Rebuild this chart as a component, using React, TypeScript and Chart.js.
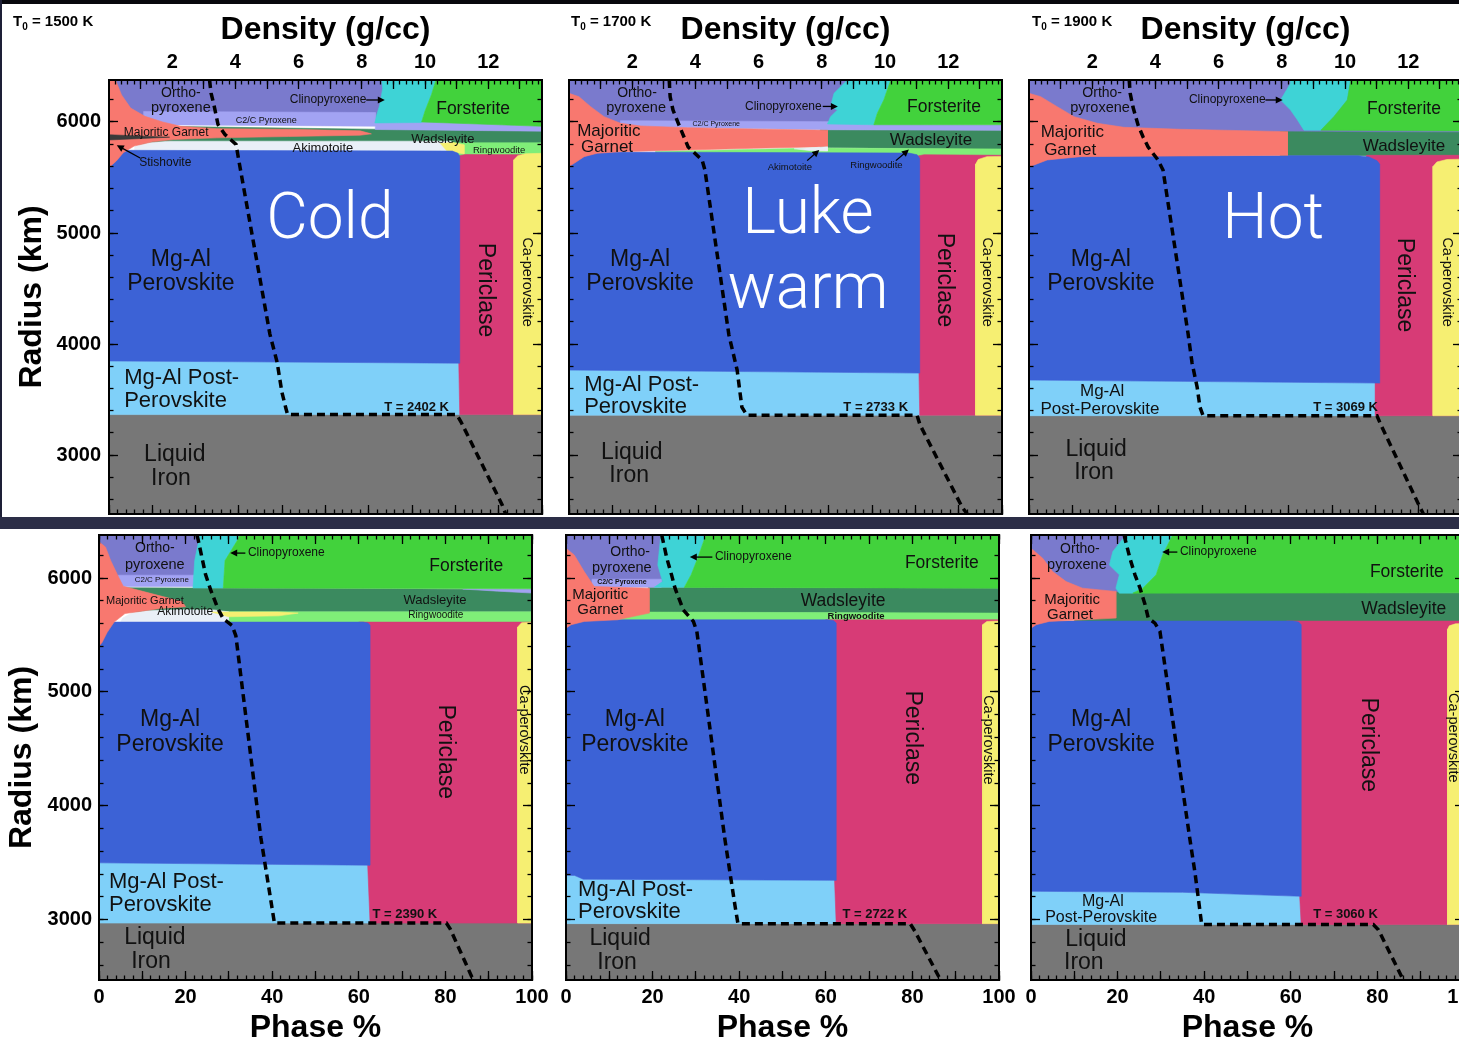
import React, { useEffect, useRef } from 'react';
import { Chart, registerables } from 'chart.js';

Chart.register(...registerables);

type Pt = [number, number]; // [phase %, radius km] or [density, radius km]
type Region = [string, Pt[]];
type Label = { t: string; x: number; r: number; s: number; c?: string; w?: string; rot?: boolean; a?: CanvasTextAlign; f?: string };
type Arrow = [number, number, number, number];

const R_MIN = 2470;
const R_MAX = 6378;
const D_MAX = 13.7;

// Tick values
const RADIUS_TICKS = [3000, 4000, 5000, 6000];
const PHASE_TICKS = [0, 10, 20, 30, 40, 50, 60, 70, 80, 90, 100];
const PHASE_LABELS = [0, 20, 40, 60, 80, 100];
const DENSITY_TICKS = [1, 2, 3, 4, 5, 6, 7, 8, 9, 10, 11, 12, 13];
const DENSITY_LABELS = [2, 4, 6, 8, 10, 12];
const steps = (a: number, b: number, d: number) => { const o: number[] = []; for (let v = a; v <= b + 1e-9; v += d) o.push(Math.round(v * 100) / 100); return o; };
const RADIUS_MINOR = steps(2600, 6200, 200);
const PHASE_MINOR = steps(0, 100, 2);
const DENSITY_MINOR = steps(0.2, 13.6, 0.2);

const FONT = '"Liberation Sans", Arial, Helvetica, sans-serif';
const BIG = '300 64px Roboto, "Liberation Sans", sans-serif';

const PHASE_COLORS: Record<string, string> = {
  'Orthopyroxene': '#7a7acd',
  'C2/C Pyroxene': '#a2a3f3',
  'Clinopyroxene': '#3ed3d6',
  'Forsterite': '#42d23c',
  'Majoritic Garnet': '#f8786f',
  'Stishovite': '#3a3a3a',
  'Wadsleyite': '#3b8a5f',
  'Akimotoite': '#e9eff7',
  'Ringwoodite': '#7fee78',
  'Mg-Al Perovskite': '#3c62d6',
  'Mg-Al Post-Perovskite': '#7fd0f9',
  'Periclase': '#d73b76',
  'Ca-perovskite': '#f6ef72',
  'Liquid Iron': '#777777',
};

// ---------------- T0 = 1500 K (Cold) ----------------
const COLD_REGIONS: Region[] = [
  ['Orthopyroxene', [[0, 6378], [66, 6378], [66, 5985], [0, 5985]]],
  ['Wadsleyite', [[4, 5965], [60, 5935], [100, 5918], [100, 5800], [4, 5800]]],
  ['Ringwoodite', [[76, 5813], [100, 5813], [100, 5690], [76, 5690]]],
  ['Akimotoite', [[79, 5700], [79, 5827], [14, 5827], [9, 5812], [6, 5780], [6, 5720]]],
  ['Ca-perovskite', [[76.5, 5808], [79.5, 5815], [82, 5795], [82, 5712], [78, 5742]]],
  ['C2/C Pyroxene', [[8, 6095], [35, 6090], [61.5, 6085], [61.5, 5991], [72, 6006], [100, 5961], [100, 5917], [61.5, 5932], [61.5, 5962], [8, 5976]]],
  ['Clinopyroxene', [[63, 6378], [75.5, 6378], [74.5, 6250], [73, 6100], [72.2, 5995], [61.4, 5991], [61.8, 6060], [62.5, 6150], [63.2, 6300]]],
  ['Forsterite', [[75.5, 6378], [100, 6378], [100, 5961], [72.2, 6000], [73, 6100], [74.5, 6250]]],
  ['Liquid Iron', [[0, 2470], [100, 2470], [100, 3365], [0, 3365]]],
  ['Mg-Al Post-Perovskite', [[0, 3365], [81, 3365], [81, 3828], [40, 3838], [0, 3848]]],
  ['Periclase', [[81, 3365], [100, 3365], [100, 5705], [82.3, 5707], [80, 5690], [80, 5500]]],
  ['Ca-perovskite', [[93.5, 3365], [100, 3365], [100, 5718], [96.2, 5714], [94.4, 5695], [93.5, 5660]]],
  ['Mg-Al Perovskite', [[0, 3848], [40, 3838], [81, 3828], [81, 5690], [80.6, 5718], [79.3, 5738], [3, 5745], [0, 5725]]],
  ['Majoritic Garnet', [[0, 6378], [1.5, 6378], [2.9, 6244], [5, 6125], [8.3, 6051], [12.4, 6000], [16.6, 5961], [24.9, 5940], [41.5, 5934], [58, 5920], [60.6, 5893], [58, 5881], [41.5, 5869], [24.9, 5857], [14.9, 5842], [10, 5821], [5.8, 5783], [3.3, 5723], [1.7, 5649], [0.4, 5604], [0, 5589]]],
  ['Stishovite', [[0, 5885], [14, 5863], [0, 5838]]],
];
const COLD_DENSITY: Pt[] = [[3.18, 6378], [3.23, 6259], [3.32, 6155], [3.45, 5976], [3.67, 5887], [4.02, 5798], [4.11, 5649], [5.09, 4090], [5.32, 3836], [5.47, 3567], [5.6, 3418], [5.65, 3365], [11.0, 3365], [11.14, 3298], [12.44, 2552], [12.55, 2470]];
const COLD_LABELS: Label[] = [
  { t: 'Ortho-', x: 16.6, r: 6261, s: 14 },
  { t: 'pyroxene', x: 16.6, r: 6126, s: 14.5 },
  { t: 'Clinopyroxene', x: 50.6, r: 6198, s: 12 },
  { t: 'Forsterite', x: 84.1, r: 6117, s: 17.5 },
  { t: 'C2/C Pyroxene', x: 36.3, r: 6009, s: 9 },
  { t: 'Majoritic Garnet', x: 13.2, r: 5901, s: 12 },
  { t: 'Wadsleyite', x: 77.1, r: 5847, s: 13 },
  { t: 'Akimotoite', x: 49.4, r: 5766, s: 13 },
  { t: 'Ringwoodite', x: 90.1, r: 5748, s: 9.5 },
  { t: 'Stishovite', x: 13, r: 5631, s: 12 },
  { t: 'Mg-Al', x: 16.6, r: 4757, s: 23 },
  { t: 'Perovskite', x: 16.6, r: 4541, s: 23 },
  { t: 'Cold', x: 51, r: 5099, s: 64, c: '#fff', f: BIG },
  { t: 'Periclase', x: 86.8, r: 4486, s: 23, rot: true },
  { t: 'Ca-perovskite', x: 96.5, r: 4558, s: 14.5, rot: true },
  { t: 'Mg-Al Post-', x: 3.5, r: 3693, s: 22, a: 'left' },
  { t: 'Perovskite', x: 3.5, r: 3486, s: 22, a: 'left' },
  { t: 'Liquid', x: 15.2, r: 3000, s: 23 },
  { t: 'Iron', x: 14.3, r: 2784, s: 23 },
  { t: 'T = 2402 K', x: 78.5, r: 3432, s: 13, w: 'bold', a: 'right' },
];
const COLD_ARROWS: Arrow[] = [[59.4, 6198, 63.7, 6198], [7.2, 5676, 1.8, 5790]];

// ---------------- T0 = 1700 K (Luke warm) ----------------
const LUKE_REGIONS: Region[] = [
  ['Orthopyroxene', [[0, 6378], [66, 6378], [66, 5955], [0, 5955]]],
  ['Wadsleyite', [[58, 5930], [100, 5925], [100, 5755], [58, 5770]]],
  ['Ringwoodite', [[20, 5735], [57, 5765], [100, 5757], [100, 5690], [20, 5690]]],
  ['C2/C Pyroxene', [[11.9, 6012], [60.4, 6003], [62, 5985], [75, 5978], [100, 5972], [100, 5925], [59.7, 5930], [11.9, 5960]]],
  ['Clinopyroxene', [[64.3, 6378], [74.3, 6378], [72.7, 6198], [71.2, 6078], [70.4, 5975], [59.7, 5982], [60.4, 6048], [62, 6108], [60.4, 6138], [61.2, 6258]]],
  ['Forsterite', [[74.3, 6378], [100, 6378], [100, 5975], [70.4, 5975], [71.2, 6078], [72.7, 6198]]],
  ['Liquid Iron', [[0, 2470], [100, 2470], [100, 3360], [0, 3360]]],
  ['Mg-Al Post-Perovskite', [[0, 3360], [81, 3360], [81, 3739], [0, 3766]]],
  ['Periclase', [[81, 3360], [100, 3360], [100, 5700], [82, 5705], [80, 5690], [80, 5500]]],
  ['Ca-perovskite', [[93.9, 3360], [100, 3360], [100, 5690], [96.5, 5688], [94.5, 5662], [93.9, 5620]]],
  ['Mg-Al Perovskite', [[0, 3766], [81, 3739], [81, 5670], [80.4, 5705], [78.5, 5720], [5, 5730], [2, 5700], [0, 5640]]],
  ['Majoritic Garnet', [[0, 6258], [2.3, 6228], [5, 6138], [8.1, 6048], [11.9, 5988], [16.6, 5964], [27.3, 5949], [42.7, 5937], [59.7, 5925], [59.7, 5778], [42.7, 5763], [27.3, 5748], [11.9, 5733], [6.5, 5718], [3.5, 5688], [1.2, 5628], [0, 5598]]],
  ['Akimotoite', [[52, 5759], [59.7, 5776], [59.7, 5738], [56, 5741]]],
];
const LUKE_DENSITY: Pt[] = [[3.17, 6378], [3.2, 6228], [3.29, 6108], [3.48, 5973], [3.77, 5775], [4.21, 5658], [4.3, 5568], [5.06, 4081], [5.32, 3766], [5.47, 3432], [5.63, 3360], [11.01, 3360], [11.11, 3270], [12.44, 2531], [12.6, 2470]];
const LUKE_LABELS: Label[] = [
  { t: 'Ortho-', x: 15.7, r: 6261, s: 14 },
  { t: 'pyroxene', x: 15.5, r: 6126, s: 14.5 },
  { t: 'Clinopyroxene', x: 49.5, r: 6140, s: 12 },
  { t: 'Forsterite', x: 86.6, r: 6135, s: 17.5 },
  { t: 'C2/C Pyroxene', x: 34, r: 5982, s: 7 },
  { t: 'Majoritic', x: 9.2, r: 5919, s: 17 },
  { t: 'Garnet', x: 8.8, r: 5775, s: 17 },
  { t: 'Wadsleyite', x: 83.6, r: 5838, s: 17 },
  { t: 'Akimotoite', x: 51, r: 5595, s: 9.5 },
  { t: 'Ringwoodite', x: 71, r: 5613, s: 9.5 },
  { t: 'Mg-Al', x: 16.4, r: 4757, s: 23 },
  { t: 'Perovskite', x: 16.4, r: 4541, s: 23 },
  { t: 'Luke', x: 55.2, r: 5144, s: 64, c: '#fff', f: BIG },
  { t: 'warm', x: 55.2, r: 4468, s: 64, c: '#fff', f: BIG },
  { t: 'Periclase', x: 86.6, r: 4577, s: 23, rot: true },
  { t: 'Ca-perovskite', x: 96.5, r: 4558, s: 14.5, rot: true },
  { t: 'Mg-Al Post-', x: 3.5, r: 3630, s: 22, a: 'left' },
  { t: 'Perovskite', x: 3.5, r: 3432, s: 22, a: 'left' },
  { t: 'Liquid', x: 14.5, r: 3018, s: 23 },
  { t: 'Iron', x: 13.9, r: 2811, s: 23 },
  { t: 'T = 2733 K', x: 78.3, r: 3432, s: 13, w: 'bold', a: 'right' },
];
const LUKE_ARROWS: Arrow[] = [[58.6, 6140, 62.1, 6140], [55, 5652, 57.8, 5748], [75.5, 5652, 78.5, 5752]];

// ---------------- T0 = 1900 K (Hot) ----------------
const HOT_REGIONS: Region[] = [
  ['Orthopyroxene', [[0, 6378], [100, 6378], [100, 5895], [0, 5895]]],
  ['Wadsleyite', [[58, 5913], [100, 5905], [100, 5695], [58, 5695]]],
  ['Clinopyroxene', [[60.4, 6378], [74.3, 6378], [73.5, 6198], [70.4, 6048], [67.4, 5926], [63.5, 5926], [62, 6018], [60.4, 6108], [58.1, 6198], [60.4, 6348]]],
  ['Forsterite', [[74.3, 6378], [100, 6378], [100, 5918], [67.4, 5926], [70.4, 6048], [73.5, 6198]]],
  ['Liquid Iron', [[0, 2470], [100, 2470], [100, 3355], [0, 3355]]],
  ['Mg-Al Post-Perovskite', [[0, 3355], [81, 3355], [81, 3649], [0, 3676]]],
  ['Periclase', [[80, 3355], [100, 3355], [100, 5700], [78, 5700], [78, 5600], [80, 5500]]],
  ['Ca-perovskite', [[93.3, 3355], [100, 3355], [100, 5665], [96.5, 5662], [94.2, 5640], [93.3, 5600]]],
  ['Mg-Al Perovskite', [[0, 3676], [81, 3649], [81, 5620], [80.4, 5650], [78.5, 5685], [76, 5697], [6, 5697], [2, 5650], [0, 5590]]],
  ['Majoritic Garnet', [[0, 6258], [2.7, 6228], [6.5, 6138], [10.4, 6048], [15.8, 5988], [21.9, 5952], [35, 5934], [59.7, 5913], [59.7, 5700], [35, 5694], [11.9, 5688], [4.2, 5658], [1.2, 5613], [0, 5598]]],
];
const HOT_DENSITY: Pt[] = [[3.17, 6378], [3.2, 6261], [3.29, 6135], [3.45, 5973], [3.61, 5865], [3.77, 5775], [4.08, 5658], [4.24, 5568], [5.03, 4099], [5.16, 3829], [5.32, 3612], [5.41, 3432], [5.51, 3355], [11.01, 3355], [11.11, 3288], [12.37, 2531], [12.48, 2470]];
const HOT_LABELS: Label[] = [
  { t: 'Ortho-', x: 16.9, r: 6261, s: 14 },
  { t: 'pyroxene', x: 16.4, r: 6126, s: 14.5 },
  { t: 'Clinopyroxene', x: 45.8, r: 6198, s: 12 },
  { t: 'Forsterite', x: 86.6, r: 6117, s: 17.5 },
  { t: 'Majoritic', x: 10, r: 5910, s: 17 },
  { t: 'Garnet', x: 9.5, r: 5748, s: 17 },
  { t: 'Wadsleyite', x: 86.6, r: 5784, s: 17 },
  { t: 'Mg-Al', x: 16.6, r: 4757, s: 23 },
  { t: 'Perovskite', x: 16.6, r: 4541, s: 23 },
  { t: 'Hot', x: 56.4, r: 5099, s: 64, c: '#fff', f: BIG },
  { t: 'Periclase', x: 86.6, r: 4531, s: 23, rot: true },
  { t: 'Ca-perovskite', x: 96.5, r: 4558, s: 14.5, rot: true },
  { t: 'Mg-Al', x: 16.9, r: 3576, s: 17 },
  { t: 'Post-Perovskite', x: 16.4, r: 3414, s: 17 },
  { t: 'Liquid', x: 15.5, r: 3045, s: 23 },
  { t: 'Iron', x: 15, r: 2838, s: 23 },
  { t: 'T = 3069 K', x: 80.6, r: 3432, s: 13, w: 'bold', a: 'right' },
];
const HOT_ARROWS: Arrow[] = [[54.6, 6198, 58.6, 6198]];

// ---------------- Bottom row, panel 1 (T = 2390 K) ----------------
const B1_REGIONS: Region[] = [
  ['Orthopyroxene', [[0, 6378], [24, 6378], [24, 5975], [0, 5975]]],
  ['Wadsleyite', [[5, 5915], [100, 5900], [100, 5703], [5, 5703]]],
  ['C2/C Pyroxene', [[84, 5903], [100, 5903], [100, 5868], [92, 5885]]],
  ['Ringwoodite', [[29, 5703], [100, 5703], [100, 5590], [29, 5590]]],
  ['Akimotoite', [[4.8, 5600], [5.5, 5650], [7.5, 5690], [11, 5712], [18, 5722], [26.6, 5720], [29.9, 5703], [29.9, 5600]]],
  ['Ca-perovskite', [[26, 5702], [41.5, 5702], [46, 5692], [41.5, 5668], [29.9, 5660]]],
  ['C2/C Pyroxene', [[4.4, 6025], [22.5, 6025], [22.5, 5925], [4.4, 5925]]],
  ['Clinopyroxene', [[23.3, 6378], [32.5, 6378], [32, 6333], [29.1, 6153], [28.7, 5913], [21.7, 5913], [22.1, 6153]]],
  ['Forsterite', [[32.5, 6378], [100, 6378], [100, 5905], [28.7, 5913], [29.1, 6153], [32, 6333]]],
  ['Liquid Iron', [[0, 2470], [100, 2470], [100, 2970], [0, 2970]]],
  ['Mg-Al Post-Perovskite', [[0, 2970], [62.6, 2970], [62.6, 3478], [0, 3499]]],
  ['Periclase', [[62.6, 2970], [100, 2970], [100, 5613], [60, 5613], [60, 5400]]],
  ['Ca-perovskite', [[96.7, 2970], [100, 2970], [100, 5612], [97.6, 5608], [96.7, 5570]]],
  ['Mg-Al Perovskite', [[0, 3499], [62.6, 3478], [62.6, 5585], [62.1, 5605], [61, 5613], [3, 5613], [0.5, 5580], [0, 5500]]],
  ['Majoritic Garnet', [[0, 6318], [1.5, 6273], [2.7, 6153], [4.4, 6018], [5.6, 5928], [10.1, 5883], [19.2, 5793], [20, 5748], [14.2, 5733], [6, 5688], [3.5, 5613], [1.9, 5523], [0.7, 5433], [0, 5403]]],
];
const B1_DENSITY: Pt[] = [[3.1, 6378], [3.14, 6333], [3.37, 6033], [3.53, 5898], [3.76, 5733], [3.93, 5643], [4.21, 5583], [4.33, 5493], [5.12, 3722], [5.29, 3425], [5.46, 3128], [5.55, 2970], [10.99, 2970], [11.11, 2920], [11.84, 2470]];
const B1_LABELS: Label[] = [
  { t: 'Ortho-', x: 12.9, r: 6263, s: 14 },
  { t: 'pyroxene', x: 12.9, r: 6114, s: 14.5 },
  { t: 'Clinopyroxene', x: 34.4, r: 6219, s: 12, a: 'left' },
  { t: 'Forsterite', x: 84.8, r: 6105, s: 17.5 },
  { t: 'C2/C Pyroxene', x: 14.5, r: 5982, s: 8 },
  { t: 'Majoritic Garnet', x: 10.6, r: 5798, s: 11 },
  { t: 'Wadsleyite', x: 77.6, r: 5807, s: 13 },
  { t: 'Akimotoite', x: 19.9, r: 5702, s: 12 },
  { t: 'Ringwoodite', x: 77.8, r: 5676, s: 10 },
  { t: 'Mg-Al', x: 16.4, r: 4755, s: 23 },
  { t: 'Perovskite', x: 16.4, r: 4535, s: 23 },
  { t: 'Periclase', x: 80.1, r: 4474, s: 23, rot: true },
  { t: 'Ca-perovskite', x: 98.2, r: 4667, s: 14.5, rot: true },
  { t: 'Mg-Al Post-', x: 2.3, r: 3334, s: 22, a: 'left' },
  { t: 'Perovskite', x: 2.3, r: 3132, s: 22, a: 'left' },
  { t: 'Liquid', x: 12.9, r: 2843, s: 23 },
  { t: 'Iron', x: 12.0, r: 2632, s: 23 },
  { t: 'T = 2390 K', x: 78.1, r: 3044, s: 13, w: 'bold', a: 'right' },
];
const B1_ARROWS: Arrow[] = [[33.8, 6219, 30.3, 6219]];

// ---------------- Bottom row, panel 2 (T = 2722 K) ----------------
const B2_REGIONS: Region[] = [
  ['Orthopyroxene', [[0, 6378], [23, 6378], [23, 5930], [0, 5930]]],
  ['Wadsleyite', [[19, 5917], [100, 5911], [100, 5690], [19, 5700]]],
  ['Ringwoodite', [[10, 5640], [19.2, 5701], [100, 5692], [100, 5600], [10, 5600]]],
  ['C2/C Pyroxene', [[6, 5990], [22, 5990], [22, 5920], [6, 5920]]],
  ['Clinopyroxene', [[21.9, 6378], [32.3, 6378], [30.4, 6174], [28.9, 6028], [27.3, 5920], [20.4, 5920], [22.3, 5969], [21.2, 6115]]],
  ['Forsterite', [[32.3, 6378], [100, 6378], [100, 5911], [27.3, 5918], [28.9, 6028], [30.4, 6174]]],
  ['Liquid Iron', [[0, 2470], [100, 2470], [100, 2965], [0, 2965]]],
  ['Mg-Al Post-Perovskite', [[0, 2965], [62.4, 2965], [62.4, 3345], [4, 3355], [2, 3388], [0, 3390]]],
  ['Periclase', [[62.4, 2965], [100, 2965], [100, 5633], [60, 5633], [60, 5400]]],
  ['Ca-perovskite', [[96.2, 2965], [100, 2965], [100, 5622], [97.2, 5619], [96.2, 5590]]],
  ['Mg-Al Perovskite', [[0, 3390], [2, 3388], [4, 3355], [62.4, 3345], [62.4, 5605], [61.8, 5626], [60.5, 5633], [2, 5633], [0.5, 5600], [0, 5560]]],
  ['Majoritic Garnet', [[0, 6261], [1.9, 6203], [4.2, 6057], [6.5, 5925], [19.2, 5911], [19.2, 5692], [11.9, 5633], [4.2, 5619], [1.2, 5590], [0, 5560]]],
];
const B2_DENSITY: Pt[] = [[3.03, 6378], [3.19, 6174], [3.34, 6028], [3.45, 5911], [3.71, 5721], [4.03, 5619], [4.14, 5531], [5.03, 3701], [5.19, 3409], [5.35, 3117], [5.44, 2965], [10.89, 2965], [11.04, 2898], [11.85, 2470]];
const B2_LABELS: Label[] = [
  { t: 'Ortho-', x: 14.8, r: 6228, s: 14 },
  { t: 'pyroxene', x: 12.9, r: 6088, s: 14.5 },
  { t: 'Clinopyroxene', x: 34.4, r: 6184, s: 12, a: 'left' },
  { t: 'Forsterite', x: 86.8, r: 6132, s: 17.5 },
  { t: 'C2/C Pyroxene', x: 12.9, r: 5965, s: 7, w: 'bold' },
  { t: 'Majoritic', x: 7.9, r: 5851, s: 15 },
  { t: 'Garnet', x: 7.9, r: 5719, s: 15 },
  { t: 'Wadsleyite', x: 64, r: 5798, s: 17.5 },
  { t: 'Ringwoodite', x: 67, r: 5667, s: 9.5, w: 'bold' },
  { t: 'Mg-Al', x: 15.9, r: 4755, s: 23 },
  { t: 'Perovskite', x: 15.9, r: 4535, s: 23 },
  { t: 'Periclase', x: 79.9, r: 4597, s: 23, rot: true },
  { t: 'Ca-perovskite', x: 97.5, r: 4579, s: 14.5, rot: true },
  { t: 'Mg-Al Post-', x: 2.8, r: 3264, s: 22, a: 'left' },
  { t: 'Perovskite', x: 2.8, r: 3071, s: 22, a: 'left' },
  { t: 'Liquid', x: 12.5, r: 2834, s: 23 },
  { t: 'Iron', x: 11.8, r: 2623, s: 23 },
  { t: 'T = 2722 K', x: 78.8, r: 3044, s: 13, w: 'bold', a: 'right' },
];
const B2_ARROWS: Arrow[] = [[33.8, 6184, 28.6, 6184]];

// ---------------- Bottom row, panel 3 (T = 3060 K) ----------------
const B3_REGIONS: Region[] = [
  ['Orthopyroxene', [[0, 6378], [22, 6378], [22, 5868], [0, 5868]]],
  ['Wadsleyite', [[19.6, 5875], [100, 5870], [100, 5615], [10, 5615], [10, 5700]]],
  ['Clinopyroxene', [[21.9, 6378], [32.7, 6378], [30.4, 6203], [28.9, 6028], [25.8, 5911], [23.5, 5867], [20.4, 5867], [19.6, 5911], [20.4, 6028], [18.1, 6115], [18.9, 6232]]],
  ['Forsterite', [[32.7, 6378], [100, 6378], [100, 5870], [23.5, 5867], [25.8, 5911], [28.9, 6028], [30.4, 6203]]],
  ['Liquid Iron', [[0, 2470], [100, 2470], [100, 2957], [0, 2957]]],
  ['Mg-Al Post-Perovskite', [[0, 2957], [62.4, 2957], [62.4, 3205], [35, 3240], [0, 3249]]],
  ['Periclase', [[62.4, 2957], [100, 2957], [100, 5622], [59, 5622], [59, 5400]]],
  ['Ca-perovskite', [[96.2, 2957], [100, 2957], [100, 5600], [98, 5598], [96.6, 5580], [96.2, 5550]]],
  ['Mg-Al Perovskite', [[0, 3249], [35, 3240], [62.4, 3205], [62.4, 5590], [61.8, 5613], [60.5, 5622], [3, 5622], [1, 5600], [0, 5560]]],
  ['Majoritic Garnet', [[0, 6261], [2.7, 6174], [5, 6057], [8.1, 5969], [11.9, 5911], [19.6, 5882], [19.6, 5648], [11.9, 5633], [4.2, 5619], [1.2, 5590], [0, 5560]]],
];
const B3_DENSITY: Pt[] = [[2.95, 6378], [2.97, 6349], [3.13, 6174], [3.29, 6028], [3.45, 5911], [3.61, 5765], [3.71, 5648], [3.92, 5604], [4.08, 5531], [5.03, 3701], [5.19, 3409], [5.3, 3175], [5.4, 2957], [10.83, 2957], [10.99, 2912], [11.78, 2470]];
const B3_LABELS: Label[] = [
  { t: 'Ortho-', x: 11.3, r: 6254, s: 14 },
  { t: 'pyroxene', x: 10.6, r: 6114, s: 14.5 },
  { t: 'Clinopyroxene', x: 34.4, r: 6228, s: 12, a: 'left' },
  { t: 'Forsterite', x: 86.8, r: 6053, s: 17.5 },
  { t: 'Majoritic', x: 9.5, r: 5807, s: 15 },
  { t: 'Garnet', x: 9, r: 5676, s: 15 },
  { t: 'Wadsleyite', x: 86.1, r: 5728, s: 17.5 },
  { t: 'Mg-Al', x: 16.2, r: 4755, s: 23 },
  { t: 'Perovskite', x: 16.2, r: 4535, s: 23 },
  { t: 'Periclase', x: 77.8, r: 4535, s: 23, rot: true },
  { t: 'Ca-perovskite', x: 97.5, r: 4597, s: 14.5, rot: true },
  { t: 'Mg-Al', x: 16.6, r: 3158, s: 16 },
  { t: 'Post-Perovskite', x: 16.2, r: 3018, s: 16 },
  { t: 'Liquid', x: 15, r: 2825, s: 23 },
  { t: 'Iron', x: 12.2, r: 2623, s: 23 },
  { t: 'T = 3060 K', x: 80.1, r: 3044, s: 13, w: 'bold', a: 'right' },
];
const B3_ARROWS: Arrow[] = [[33.8, 6228, 30.3, 6228]];

type PanelSpec = {
  key: string; row: 'top' | 'bottom'; left: number; top: number;
  padL: number; padR: number; padT: number; padB: number; plotW: number; plotH: number;
  showY: boolean; yTitlePad: number; yGap: number;
  regions: Region[]; density: Pt[]; labels: Label[]; arrows: Arrow[];
};

const PANELS: PanelSpec[] = [
  { key: 'cold', row: 'top', left: 4, top: 0, padL: 105, padR: 12, padT: 80, padB: 4, plotW: 433, plotH: 434, showY: true, yTitlePad: 12, yGap: 8, regions: COLD_REGIONS, density: COLD_DENSITY, labels: COLD_LABELS, arrows: COLD_ARROWS },
  { key: 'luke', row: 'top', left: 555, top: 0, padL: 14, padR: 12, padT: 80, padB: 4, plotW: 433, plotH: 434, showY: false, yTitlePad: 0, yGap: 8, regions: LUKE_REGIONS, density: LUKE_DENSITY, labels: LUKE_LABELS, arrows: LUKE_ARROWS },
  { key: 'hot', row: 'top', left: 1015, top: 0, padL: 14, padR: 12, padT: 80, padB: 4, plotW: 433, plotH: 434, showY: false, yTitlePad: 0, yGap: 8, regions: HOT_REGIONS, density: HOT_DENSITY, labels: HOT_LABELS, arrows: HOT_ARROWS },
  { key: 'b1', row: 'bottom', left: 4, top: 529, padL: 95, padR: 22, padT: 6, padB: 65, plotW: 433, plotH: 445, showY: true, yTitlePad: 2, yGap: 7, regions: B1_REGIONS, density: B1_DENSITY, labels: B1_LABELS, arrows: B1_ARROWS },
  { key: 'b2', row: 'bottom', left: 552, top: 529, padL: 14, padR: 22, padT: 6, padB: 65, plotW: 433, plotH: 445, showY: false, yTitlePad: 0, yGap: 7, regions: B2_REGIONS, density: B2_DENSITY, labels: B2_LABELS, arrows: B2_ARROWS },
  { key: 'b3', row: 'bottom', left: 1017, top: 529, padL: 14, padR: 22, padT: 6, padB: 65, plotW: 433, plotH: 445, showY: false, yTitlePad: 0, yGap: 7, regions: B3_REGIONS, density: B3_DENSITY, labels: B3_LABELS, arrows: B3_ARROWS },
];

const T0_LABELS: { temp: string; left: number }[] = [
  { temp: '1500', left: 13 },
  { temp: '1700', left: 571 },
  { temp: '1900', left: 1032 },
];

const tickFont = { family: FONT, size: 20, weight: 'bold', lineHeight: 1 };
const titleFont = { family: FONT, size: 32, weight: 'bold', lineHeight: 1 };

function frame(len: number, border: boolean) {
  return {
    grid: { display: true, drawOnChartArea: false, drawTicks: true, tickLength: -len, tickWidth: 1.3, tickColor: '#000', z: 2 },
    border: { display: border, color: '#000', width: 2, z: 2 },
  };
}
function sized(dim: 'w' | 'h', v: number) {
  return (s: any) => {
    if (dim === 'w') s.width = v; else s.height = v;
    s.paddingLeft = 0; s.paddingRight = 0; s.paddingTop = 0; s.paddingBottom = 0;
  };
}
function fixedTicks(vals: number[]) {
  return (s: any) => { s.ticks = vals.map((v) => ({ value: v })); };
}

function labelsPlugin(labels: Label[], arrows: Arrow[]) {
  return {
    id: 'phaseLabels',
    beforeDatasetDraw(chart: any, args: any) {
      if (args.index !== 0) return;
      const { ctx, scales } = chart;
      const sx = scales.x, sy = scales.y;
      const ca = chart.chartArea;
      ctx.save();
      ctx.beginPath();
      ctx.rect(ca.left, ca.top, ca.right - ca.left, ca.bottom - ca.top);
      ctx.clip();
      for (const l of labels) {
        const px = sx.getPixelForValue(l.x), py = sy.getPixelForValue(l.r);
        ctx.font = l.f ? l.f : `${l.w || 'normal'} ${l.s}px ${FONT}`;
        ctx.fillStyle = l.c || '#111';
        ctx.textAlign = l.a || 'center';
        ctx.textBaseline = 'middle';
        if (l.rot) {
          ctx.save(); ctx.translate(px, py); ctx.rotate(Math.PI / 2); ctx.fillText(l.t, 0, 0); ctx.restore();
        } else {
          ctx.fillText(l.t, px, py);
        }
      }
      ctx.strokeStyle = '#000'; ctx.fillStyle = '#000'; ctx.lineWidth = 1.3;
      for (const [x1, r1, x2, r2] of arrows) {
        const ax = sx.getPixelForValue(x1), ay = sy.getPixelForValue(r1);
        const bx = sx.getPixelForValue(x2), by = sy.getPixelForValue(r2);
        const ang = Math.atan2(by - ay, bx - ax);
        const c = Math.cos(ang), s = Math.sin(ang);
        ctx.beginPath(); ctx.moveTo(ax, ay); ctx.lineTo(bx - 5 * c, by - 5 * s); ctx.stroke();
        ctx.beginPath(); ctx.moveTo(bx, by);
        ctx.lineTo(bx - 7 * c + 3.5 * s, by - 7 * s - 3.5 * c);
        ctx.lineTo(bx - 7 * c - 3.5 * s, by - 7 * s + 3.5 * c);
        ctx.closePath(); ctx.fill();
      }
      ctx.restore();
    },
  };
}

function buildConfig(p: PanelSpec): any {
  const top = p.row === 'top';
  const datasets: any[] = [];
  datasets.push({
    label: 'Density (g/cc)', data: p.density.map(([d, r]) => ({ x: d, y: r })), xAxisID: 'xd', yAxisID: 'y',
    borderColor: '#000', borderWidth: 3.5, borderDash: [8, 5], borderCapStyle: 'butt', fill: false, pointRadius: 0,
  });
  const painted = [...p.regions].reverse();
  for (const [name, pts] of painted) {
    const closed = [...pts, pts[0]];
    const col = PHASE_COLORS[name];
    datasets.push({
      label: name, data: closed.map(([x, r]) => ({ x, y: r })), xAxisID: 'x', yAxisID: 'y',
      fill: 'shape', backgroundColor: col, borderColor: col, borderWidth: 0.6, pointRadius: 0,
    });
  }

  const scales: any = {
    x: {
      type: 'linear', position: 'bottom', min: 0, max: 100, weight: 1, ...frame(9, true),
      afterBuildTicks: fixedTicks(PHASE_TICKS),
      ticks: { autoSkip: false, maxRotation: 0, display: !top, font: tickFont, color: '#000', padding: 16.5, callback: (v: number) => (PHASE_LABELS.includes(v) ? String(v) : '') },
      title: { display: !top, text: 'Phase %', font: titleFont, color: '#000', padding: { top: 0, bottom: 1 } },
      afterFit: sized('h', p.padB),
    },
    xMinor: {
      type: 'linear', position: 'bottom', min: 0, max: 100, weight: 0, ...frame(4.5, false),
      afterBuildTicks: fixedTicks(PHASE_MINOR), ticks: { display: false }, afterFit: sized('h', 0),
    },
    y: {
      type: 'linear', position: 'left', min: R_MIN, max: R_MAX, weight: 1, ...frame(9, true),
      afterBuildTicks: fixedTicks(RADIUS_TICKS),
      ticks: { autoSkip: false, display: p.showY, font: tickFont, color: '#000', padding: p.yGap + 9, callback: (v: number) => String(v) },
      title: { display: p.showY, text: 'Radius (km)', font: titleFont, color: '#000', padding: { top: p.yTitlePad, bottom: 0 } },
      afterFit: sized('w', p.padL),
    },
    yMinor: {
      type: 'linear', position: 'left', min: R_MIN, max: R_MAX, weight: 0, ...frame(4.5, false),
      afterBuildTicks: fixedTicks(RADIUS_MINOR), ticks: { display: false }, afterFit: sized('w', 0),
    },
    yR: {
      type: 'linear', position: 'right', min: R_MIN, max: R_MAX, weight: 1, ...frame(9, true),
      afterBuildTicks: fixedTicks(RADIUS_TICKS), ticks: { display: false }, afterFit: sized('w', p.padR),
    },
    yRMinor: {
      type: 'linear', position: 'right', min: R_MIN, max: R_MAX, weight: 0, ...frame(4.5, false),
      afterBuildTicks: fixedTicks(RADIUS_MINOR), ticks: { display: false }, afterFit: sized('w', 0),
    },
  };
  if (top) {
    scales.xd = {
      type: 'linear', position: 'top', min: 0, max: D_MAX, weight: 1, ...frame(9, true),
      afterBuildTicks: fixedTicks(DENSITY_TICKS),
      ticks: { autoSkip: false, maxRotation: 0, font: tickFont, color: '#000', padding: 17, callback: (v: number) => (DENSITY_LABELS.includes(v) ? String(v) : '') },
      title: { display: true, text: 'Density (g/cc)', font: titleFont, color: '#000', padding: { top: 14, bottom: 0 } },
      afterFit: sized('h', p.padT),
    };
    scales.xdMinor = {
      type: 'linear', position: 'top', min: 0, max: D_MAX, weight: 0, ...frame(4.5, false),
      afterBuildTicks: fixedTicks(DENSITY_MINOR), ticks: { display: false }, afterFit: sized('h', 0),
    };
  } else {
    scales.xd = { type: 'linear', position: 'top', min: 0, max: D_MAX, display: false };
    scales.xTop = {
      type: 'linear', position: 'top', min: 0, max: 100, weight: 1, ...frame(9, true),
      afterBuildTicks: fixedTicks(PHASE_TICKS), ticks: { display: false }, afterFit: sized('h', p.padT),
    };
    scales.xTopMinor = {
      type: 'linear', position: 'top', min: 0, max: 100, weight: 0, ...frame(4.5, false),
      afterBuildTicks: fixedTicks(PHASE_MINOR), ticks: { display: false }, afterFit: sized('h', 0),
    };
  }

  return {
    type: 'line',
    data: { datasets },
    options: {
      animation: false,
      responsive: false,
      maintainAspectRatio: false,
      devicePixelRatio: 1,
      events: [],
      layout: { padding: 0 },
      elements: { point: { radius: 0 }, line: { tension: 0 } },
      plugins: {
        legend: { display: false },
        tooltip: { enabled: false },
        filler: { drawTime: 'beforeDatasetDraw', propagate: false },
      },
      scales,
    },
    plugins: [labelsPlugin(p.labels, p.arrows)],
  };
}

function Panel({ spec }: { spec: PanelSpec }) {
  const ref = useRef<HTMLCanvasElement>(null);
  const w = spec.padL + spec.plotW + spec.padR;
  const h = spec.padT + spec.plotH + spec.padB;
  useEffect(() => {
    if (!ref.current) return;
    const chart = new Chart(ref.current, buildConfig(spec));
    return () => chart.destroy();
  }, [spec]);
  return (
    <canvas
      ref={ref}
      width={w}
      height={h}
      style={{ position: 'absolute', left: spec.left, top: spec.top, width: w, height: h }}
    />
  );
}

export default function App() {
  return (
    <div style={{ position: 'fixed', left: 0, top: 0, width: 1459, height: 1045, overflow: 'hidden', background: '#fff' }}>
      <div style={{ position: 'absolute', left: 0, top: 0, width: 1459, height: 4, background: '#07070d' }} />
      <div style={{ position: 'absolute', left: 0, top: 0, width: 2, height: 518, background: '#1d1f36' }} />
      <div style={{ position: 'absolute', left: 0, top: 517, width: 1459, height: 12, background: '#2c2e47' }} />
      {PANELS.map((p) => (
        <Panel key={p.key} spec={p} />
      ))}
      {T0_LABELS.map((t) => (
        <div
          key={t.temp}
          style={{ position: 'absolute', left: t.left, top: 12, font: `bold 15px ${FONT}`, color: '#000', whiteSpace: 'nowrap' }}
        >
          T<sub style={{ fontSize: 10 }}>0</sub> = {t.temp} K
        </div>
      ))}
    </div>
  );
}
